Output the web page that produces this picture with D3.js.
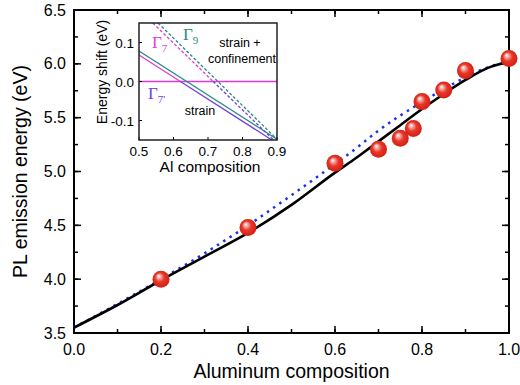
<!DOCTYPE html>
<html><head><meta charset="utf-8">
<script src="https://cdn.jsdelivr.net/npm/d3@7"></script>
<style>body{margin:0;background:#fff}svg{display:block;font-family:"Liberation Sans",Arial,sans-serif}</style>
</head><body>
<svg id="c" width="520" height="385"></svg>
<script>
// ---- data ----
const pointX = [0.2, 0.4, 0.6, 0.7, 0.75, 0.78, 0.8, 0.85, 0.9, 1.0];
const pointY = [4.0, 4.48, 5.076, 5.206, 5.308, 5.40, 5.649, 5.757, 5.937, 6.05];
const curveX = [0, 0.1, 0.2, 0.3, 0.4, 0.5, 0.6, 0.65, 0.7, 0.75, 0.8, 0.85, 0.9, 0.95, 1.0];
const solidY = [3.55, 3.76, 3.99, 4.21, 4.43, 4.69, 4.99, 5.13, 5.28, 5.43, 5.58, 5.72, 5.85, 5.96, 6.02];
const dottedY = [3.55, 3.77, 4.0, 4.24, 4.5, 4.78, 5.07, 5.22, 5.38, 5.52, 5.645, 5.765, 5.875, 5.965, 6.02];
const xTicks = [0, 0.2, 0.4, 0.6, 0.8, 1.0];
const xTickLabels = ["0.0", "0.2", "0.4", "0.6", "0.8", "1.0"];
const yTicks = [3.5, 4.0, 4.5, 5.0, 5.5, 6.0, 6.5];
const yTickLabels = ["3.5", "4.0", "4.5", "5.0", "5.5", "6.0", "6.5"];
// inset
const insetXTicks = [0.5, 0.6, 0.7, 0.8, 0.9];
const insetXTickLabels = ["0.5", "0.6", "0.7", "0.8", "0.9"];
const insetYTicks = [0.1, 0.0, -0.1];
const insetYTickLabels = ["0.1", "0.0", "-0.1"];
const g9StrainX = [0.5, 0.9], g9StrainY = [0.078, -0.148];
const g7StrainX = [0.5, 0.62], g7StrainY = [0.068, 0.0];
const g7pStrainX = [0.62, 0.885], g7pStrainY = [0.0, -0.15];
const g9ConfX = [0.555, 0.9], g9ConfY = [0.15, -0.148];
const g7ConfX = [0.54, 0.715], g7ConfY = [0.15, 0.0];
const g7pConfX = [0.715, 0.89], g7pConfY = [0.0, -0.15];
const refLineX = [0.5, 0.9], refLineY = [0.0, 0.0];

const svg = d3.select("#c");
const L = 74, R = 509, T = 10, B = 333;
const x = d3.scaleLinear().domain([0, 1]).range([L, R]);
const y = d3.scaleLinear().domain([3.5, 6.5]).range([B, T]);

// gradient for spheres
const defs = svg.append("defs");
const rg = defs.append("radialGradient").attr("id", "ball").attr("cx", "0.5").attr("cy", "0.5").attr("r", "0.55").attr("fx", "0.35").attr("fy", "0.3");
rg.append("stop").attr("offset", "0").attr("stop-color", "#ffffff");
rg.append("stop").attr("offset", "0.22").attr("stop-color", "#f4a59d");
rg.append("stop").attr("offset", "0.5").attr("stop-color", "#e8362a");
rg.append("stop").attr("offset", "0.85").attr("stop-color", "#d82418");
rg.append("stop").attr("offset", "1").attr("stop-color", "#c81a10");

const xMinor = d3.range(0, 1.0001, 0.1);
const yMinor = d3.range(3.5, 6.5001, 0.25);

function ticksH(vals, len, pos, dir) {
  svg.append("g").selectAll("line").data(vals).join("line")
    .attr("x1", d => x(d)).attr("x2", d => x(d)).attr("y1", pos).attr("y2", pos + dir * len)
    .attr("stroke", "#000").attr("stroke-width", 1.5);
}
function ticksV(vals, len, pos, dir) {
  svg.append("g").selectAll("line").data(vals).join("line")
    .attr("y1", d => y(d)).attr("y2", d => y(d)).attr("x1", pos).attr("x2", pos + dir * len)
    .attr("stroke", "#000").attr("stroke-width", 1.5);
}
ticksH(xMinor, 4, B, -1); ticksH(xTicks, 7, B, -1);
ticksH(xMinor, 4, T, 1); ticksH(xTicks, 7, T, 1);
ticksV(yMinor, 4, L, 1); ticksV(yTicks, 7, L, 1);
ticksV(yMinor, 4, R, -1); ticksV(yTicks, 7, R, -1);

svg.append("rect").attr("x", L).attr("y", T).attr("width", R - L).attr("height", B - T)
  .attr("fill", "none").attr("stroke", "#000").attr("stroke-width", 2);

// tick labels
svg.append("g").selectAll("text").data(xTicks).join("text")
  .attr("x", d => x(d)).attr("y", B + 22).attr("text-anchor", "middle").attr("font-size", 16)
  .text((d, i) => xTickLabels[i]);
svg.append("g").selectAll("text").data(yTicks).join("text")
  .attr("x", L - 8).attr("y", d => y(d) + 5.5).attr("text-anchor", "end").attr("font-size", 16)
  .text((d, i) => yTickLabels[i]);

svg.append("text").attr("x", (L + R) / 2).attr("y", 378).attr("text-anchor", "middle").attr("font-size", 19.5).text("Aluminum composition");
svg.append("text").attr("transform", `translate(27,${(T + B) / 2}) rotate(-90)`).attr("text-anchor", "middle").attr("font-size", 19.5).text("PL emission energy (eV)");

// curves
const line = d3.line().x(d => x(d[0])).y(d => y(d[1])).curve(d3.curveMonotoneX);
svg.append("path").datum(curveX.map((v, i) => [v, dottedY[i]])).attr("d", line)
  .attr("fill", "none").attr("stroke", "#1c2fe6").attr("stroke-width", 2.5).attr("stroke-dasharray", "2.5,5");
svg.append("path").datum(curveX.map((v, i) => [v, solidY[i]])).attr("d", line)
  .attr("fill", "none").attr("stroke", "#000").attr("stroke-width", 2.6);

// points
svg.append("g").selectAll("circle").data(pointX.map((v, i) => [v, pointY[i]])).join("circle")
  .attr("cx", d => x(d[0])).attr("cy", d => y(d[1])).attr("r", 8.5).attr("fill", "url(#ball)");

// ---- inset ----
const iL = 139, iR = 277, iT = 23, iB = 140;
const ix = d3.scaleLinear().domain([0.5, 0.9]).range([iL, iR]);
const iy = d3.scaleLinear().domain([-0.15, 0.15]).range([iB, iT]);
const inset = svg.append("g");
inset.append("rect").attr("x", iL).attr("y", iT).attr("width", iR - iL).attr("height", iB - iT).attr("fill", "#fff");
const clip = defs.append("clipPath").attr("id", "iclip");
clip.append("rect").attr("x", iL).attr("y", iT).attr("width", iR - iL).attr("height", iB - iT);
const il = d3.line().x(d => ix(d[0])).y(d => iy(d[1]));
const lines = inset.append("g").attr("clip-path", "url(#iclip)");
function seg(xs, ys, color, dash) {
  lines.append("path").datum(xs.map((v, i) => [v, ys[i]])).attr("d", il).attr("fill", "none")
    .attr("stroke", color).attr("stroke-width", 1.3).attr("stroke-dasharray", dash || null);
}
seg(refLineX, refLineY, "#e23ad8");
seg(g9StrainX, g9StrainY, "#2a8a82");
seg(g7StrainX, g7StrainY, "#e23ad8");
seg(g7pStrainX, g7pStrainY, "#7040e0");
seg(g9ConfX, g9ConfY, "#2a8a82", "3,2");
seg(g7ConfX, g7ConfY, "#e23ad8", "3,2");
seg(g7pConfX, g7pConfY, "#7040e0", "3,2");

inset.append("g").selectAll("line").data(insetXTicks).join("line")
  .attr("x1", d => ix(d)).attr("x2", d => ix(d)).attr("y1", iB).attr("y2", iB - 3).attr("stroke", "#000");
inset.append("g").selectAll("line").data(insetYTicks).join("line")
  .attr("y1", d => iy(d)).attr("y2", d => iy(d)).attr("x1", iL).attr("x2", iL + 3).attr("stroke", "#000");
inset.append("rect").attr("x", iL).attr("y", iT).attr("width", iR - iL).attr("height", iB - iT)
  .attr("fill", "none").attr("stroke", "#222").attr("stroke-width", 1.5);

inset.append("g").selectAll("text").data(insetXTicks).join("text")
  .attr("x", d => ix(d)).attr("y", iB + 16).attr("text-anchor", "middle").attr("font-size", 13.5)
  .text((d, i) => insetXTickLabels[i]);
inset.append("g").selectAll("text").data(insetYTicks).join("text")
  .attr("x", iL - 5).attr("y", d => iy(d) + 5).attr("text-anchor", "end").attr("font-size", 13.5)
  .text((d, i) => insetYTickLabels[i]);
inset.append("text").attr("x", (iL + iR) / 2 + 2).attr("y", iB + 32).attr("text-anchor", "middle").attr("font-size", 15.5).text("Al composition");
inset.append("text").attr("transform", `translate(107,72) rotate(-90)`).attr("text-anchor", "middle").attr("font-size", 14).text("Energy shift (eV)");

function gamma(xp, yp, sub, color) {
  const t = inset.append("text").attr("x", xp).attr("y", yp).attr("fill", color)
    .attr("font-family", "'Liberation Serif','DejaVu Serif',serif").attr("font-size", 17);
  t.append("tspan").text("Γ");
  t.append("tspan").attr("dy", 4).attr("font-size", 11).text(sub);
}
gamma(183, 40, "9", "#2a8a82");
gamma(152, 48, "7", "#e23ad8");
gamma(148, 99, "7'", "#7040e0");
inset.append("text").attr("x", 240).attr("y", 47).attr("text-anchor", "middle").attr("font-size", 12.5).text("strain +");
inset.append("text").attr("x", 242).attr("y", 63).attr("text-anchor", "middle").attr("font-size", 12.5).text("confinement");
inset.append("text").attr("x", 200).attr("y", 115).attr("text-anchor", "middle").attr("font-size", 12.5).text("strain");
</script>
</body></html>
